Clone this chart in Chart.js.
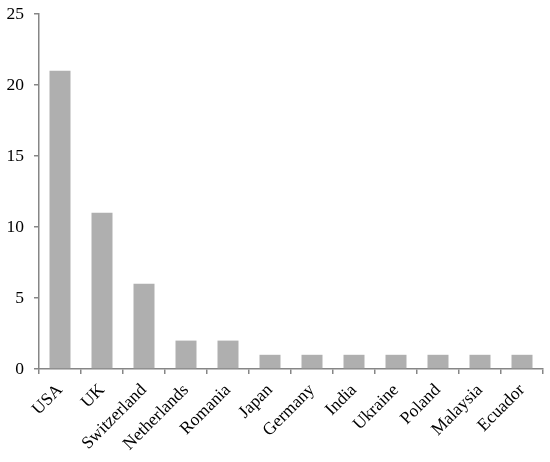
<!DOCTYPE html>
<html>
<head>
<meta charset="utf-8">
<script src="https://cdn.jsdelivr.net/npm/chart.js@4"></script>
<style>
  html, body { margin: 0; padding: 0; background: #fff; }
  #wrap { width: 550px; height: 462px; }
  .pre { font-family: "Liberation Serif"; position: absolute; left: -999px; }
</style>
</head>
<body>
<span class="pre">preload 0123</span>
<div id="wrap"><canvas id="c" width="550" height="462"></canvas></div>
<script>
const categories = ["USA", "UK", "Switzerland", "Netherlands", "Romania", "Japan", "Germany", "India", "Ukraine", "Poland", "Malaysia", "Ecuador"];
const values = [21, 11, 6, 2, 2, 1, 1, 1, 1, 1, 1, 1];
const yTicks = [0, 5, 10, 15, 20, 25];

const axisColor = "#868686";
const font = { family: "Liberation Serif", size: 17.5 };

function draw() {
  new Chart(document.getElementById("c"), {
    type: "bar",
    data: {
      labels: categories,
      datasets: [{
        data: values,
        backgroundColor: "#AFAFAF",
        borderWidth: 0,
        barPercentage: 0.5,
        categoryPercentage: 1.0
      }]
    },
    options: {
      responsive: false,
      animation: false,
      layout: { padding: { top: 14, right: 7, left: 0, bottom: 0 } },
      plugins: { legend: { display: false }, tooltip: { enabled: false } },
      scales: {
        x: {
          afterFit: (axis) => { axis.height = 93; axis.paddingLeft = 0; axis.paddingRight = 0; },
          grid: { display: true, drawOnChartArea: false, drawTicks: true, tickLength: 5, color: axisColor, offset: true, lineWidth: 1.5 },
          border: { display: true, color: axisColor, width: 1.5 },
          ticks: { color: "#000", font: font, minRotation: 45, maxRotation: 45, padding: 6, autoSkip: false }
        },
        y: {
          min: 0, max: 25,
          afterFit: (axis) => { axis.width = 39; axis.paddingTop = 0; axis.paddingBottom = 0; },
          afterBuildTicks: (axis) => { axis.ticks = yTicks.map(v => ({ value: v })); },
          grid: { display: true, drawOnChartArea: false, drawTicks: true, tickLength: 5, color: axisColor, lineWidth: 1.5 },
          border: { display: true, color: axisColor, width: 1.5 },
          ticks: { color: "#000", font: font, padding: 10 }
        }
      }
    }
  });
}

if (document.fonts && document.fonts.load) {
  document.fonts.load('17.5px "Liberation Serif"').then(draw, draw);
} else {
  draw();
}
</script>
</body>
</html>
